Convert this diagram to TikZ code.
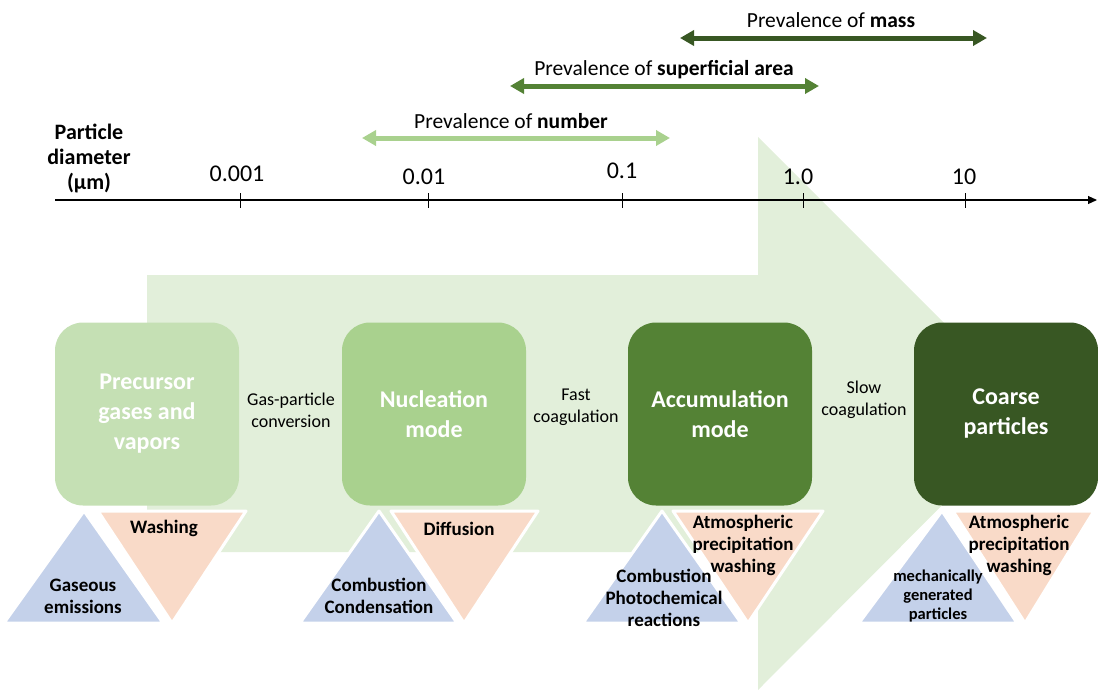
\documentclass[tikz,border=0pt]{standalone}
\usepackage{fontspec}
\setmainfont{Carlito}
\usetikzlibrary{arrows.meta}
\definecolor{arrowbg}{RGB}{226,239,218}
\definecolor{leafA}{RGB}{197,224,180}
\definecolor{leafB}{RGB}{169,209,142}
\definecolor{leafC}{RGB}{84,130,53}
\definecolor{leafD}{RGB}{56,87,35}
\definecolor{srcblue}{RGB}{196,209,234}
\definecolor{sinkpeach}{RGB}{249,218,200}

\begin{document}
\begin{tikzpicture}[x=1pt,y=-1pt]
  \tikzset{modebox/.style={rounded corners=28pt, minimum width=184pt, minimum height=183pt, inner sep=0pt, align=center, text=white, font=\fontsize{24}{30}\selectfont\bfseries},
    proc/.style={align=center, font=\fontsize{18}{22}\selectfont},
    tri/.style={draw=white, line width=3pt, line join=round},
    trilbl/.style={align=center, font=\fontsize{19}{22}\selectfont\bfseries},
    tickval/.style={font=\fontsize{24}{28}\selectfont},
    prevarrow/.style={line width=5pt, {Triangle[length=14pt,width=15pt]}-{Triangle[length=14pt,width=15pt]}},
    prevlbl/.style={font=\fontsize{21.5}{25}\selectfont}}
\useasboundingbox (0,0) rectangle (1098,691);
% growth arrow behind everything
\fill[arrowbg] (147,275) -- (758,275) -- (758,137) -- (1034,413) -- (758,690) -- (758,552) -- (147,552) -- cycle;

% size axis
\coordinate (ax0) at (55,200); \coordinate (ax1) at (1097,200);
\draw[line width=1.1pt, -{Triangle[length=9pt,width=8pt]}] (ax0) -- (ax1);
\draw (240,193) -- (240,208); \draw (428,193) -- (428,208); \draw (622,193) -- (622,208);
\draw (803,193) -- (803,208); \draw (965,193) -- (965,208);
\node[tickval] (t1) at (237,174) {0.001};
\node[tickval] (t2) at (424,177) {0.01};
\node[tickval] (t3) at (622,171) {0.1};
\node[tickval] (t4) at (798,177) {1.0};
\node[tickval] (t5) at (964,177) {10};
\node[align=center, font=\fontsize{22}{25}\selectfont\bfseries] (pd) at (89,158) {Particle\\diameter\\(µm)};

% prevalence ranges
\coordinate (n0) at (362,138); \coordinate (n1) at (670,138);
\draw[prevarrow, leafB] (n0) -- (n1);
\node[prevlbl] (nlbl) at (511,121) {Prevalence of \textbf{number}};
\coordinate (s0) at (510,86); \coordinate (s1) at (819,86);
\draw[prevarrow, leafC] (s0) -- (s1);
\node[prevlbl] (slbl) at (664,70) {Prevalence of \textbf{superficial area}};
\coordinate (m0) at (680,38); \coordinate (m1) at (987,38);
\draw[prevarrow, leafD] (m0) -- (m1);
\node[prevlbl] (mlbl) at (831,20) {Prevalence of \textbf{mass}};

% modes
\node[modebox, fill=leafA] (pre) at (147,414) {Precursor\\gases and\\vapors};
\node[modebox, fill=leafB] (nuc) at (434,414) {Nucleation\\mode};
\node[modebox, fill=leafC] (acc) at (720,414) {Accumulation\\mode};
\node[modebox, fill=leafD] (coa) at (1006,414) {Coarse\\particles};
\node[proc] (gp) at (291,410) {Gas-particle\\conversion};
\node[proc] (fc) at (576,407) {Fast\\coagulation};
\node[proc] (sc) at (864,400) {Slow\\coagulation};

% sources and sinks
\filldraw[tri, fill=sinkpeach] (98,511) -- (246,511) -- (172,623) -- cycle;
\filldraw[tri, fill=srcblue] (84,511) -- (163,623) -- (4,623) -- cycle;
\filldraw[tri, fill=sinkpeach] (391,511) -- (538,511) -- (464,623) -- cycle;
\filldraw[tri, fill=srcblue] (379,511) -- (457,623) -- (300,623) -- cycle;
\filldraw[tri, fill=sinkpeach] (673,511) -- (823,511) -- (748,623) -- cycle;
\filldraw[tri, fill=srcblue] (662,511) -- (741,623) -- (583,623) -- cycle;
\filldraw[tri, fill=sinkpeach] (953,511) -- (1094,511) -- (1025,623) -- cycle;
\filldraw[tri, fill=srcblue] (942,511) -- (1017,623) -- (859,623) -- cycle;
\node[trilbl] (wash) at (164,528) {Washing};
\node[trilbl] (gas) at (83,596) {Gaseous\\emissions};
\node[trilbl] (diff) at (459,529) {Diffusion};
\node[trilbl] (comb) at (379,596) {Combustion\\Condensation};
\node[trilbl] (atm1) at (743,545) {Atmospheric\\precipitation\\washing};
\node[trilbl] (photo) at (664,598) {Combustion\\Photochemical\\reactions};
\node[trilbl] (atm2) at (1019,545) {Atmospheric\\precipitation\\washing};
\node[trilbl, font=\fontsize{16.5}{19}\selectfont\bfseries] (mech) at (938,596) {mechanically\\generated\\particles};
\end{tikzpicture}
\end{document}
